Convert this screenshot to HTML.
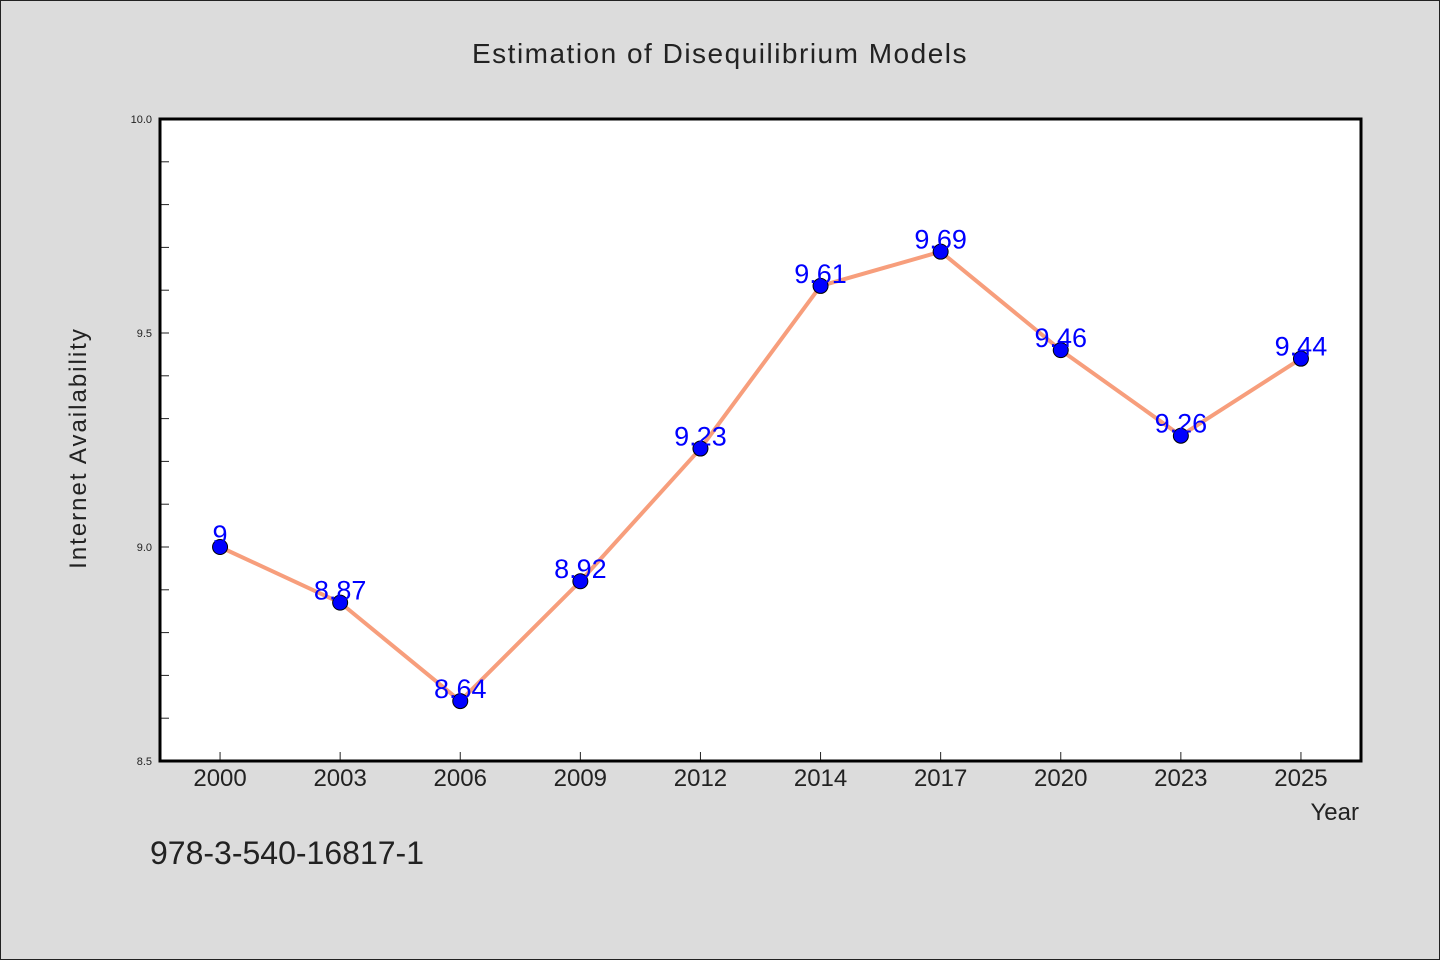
<!DOCTYPE html>
<html><head><meta charset="utf-8"><style>
html,body{margin:0;padding:0;background:#dcdcdc;}
svg{display:block;font-family:"WenQuanYi Zen Hei","Liberation Sans",sans-serif;}
</style></head><body>
<svg id="chart" width="1440" height="960" viewBox="0 0 1440 960">
<rect x="0.5" y="0.5" width="1439" height="959" fill="#dcdcdc" stroke="#222"/>
<text x="720" y="63" text-anchor="middle" font-size="28" fill="#222" letter-spacing="1.5">Estimation of Disequilibrium Models</text>
<rect x="160" y="119" width="1201" height="642" fill="#fff"/>
<g id="axes"></g>
<g id="marks"></g>
<text x="86" y="448" text-anchor="middle" font-size="24" fill="#222" letter-spacing="2" transform="rotate(-90 86 448)">Internet Availability</text>
<text x="1359" y="820" text-anchor="end" font-size="24" fill="#222">Year</text>
<text x="150" y="864" font-size="32" fill="#222">978-3-540-16817-1</text>
</svg>
<script>
const categories = ["2000","2003","2006","2009","2012","2014","2017","2020","2023","2025"];
const values = [9, 8.87, 8.64, 8.92, 9.23, 9.61, 9.69, 9.46, 9.26, 9.44];
const valueLabels = ["9","8.87","8.64","8.92","9.23","9.61","9.69","9.46","9.26","9.44"];
const yTickLabels = ["8.5","9.0","9.5","10.0"];
const yTickValues = [8.5, 9.0, 9.5, 10.0];
const yMin = 8.5, yMax = 10.0;
const L=160,R=1361,T=119,B=761;
const NS="http://www.w3.org/2000/svg";
function x(i){return L+(R-L)/categories.length*(i+0.5);}
function y(v){return B-(v-yMin)/(yMax-yMin)*(B-T);}
function mk(tag,attrs,parent){const e=document.createElementNS(NS,tag);for(const k in attrs)e.setAttribute(k,attrs[k]);parent.appendChild(e);return e;}
const axes=document.getElementById('axes'), marks=document.getElementById('marks');
// minor ticks
for(let k=1;k<15;k++){const v=yMin+k*0.1; if(Math.abs(v-9)<1e-6||Math.abs(v-9.5)<1e-6) {}
 const t=mk('line',{x1:L,x2:L+9,y1:y(v),y2:y(v),stroke:'#222','stroke-width':1},axes);
 
 }
yTickLabels.forEach((lab,i)=>{const t=mk('text',{x:L-8,y:y(yTickValues[i])+4,'text-anchor':'end','font-size':11,fill:'#222'},axes);t.textContent=lab;
 
 });
categories.forEach((c,i)=>{const tk=mk('line',{x1:x(i),x2:x(i),y1:B,y2:B-9,stroke:'#222','stroke-width':1},axes);
 
 
 const t=mk('text',{x:x(i),y:B+25,'text-anchor':'middle','font-size':24,fill:'#222'},axes);t.textContent=c;
 
 });
const ax=mk('path',{d:`M${L} ${T} H${R} V${B} H${L} Z`,fill:'none',stroke:'#000','stroke-width':3},axes);


const line=mk('polyline',{points:values.map((v,i)=>x(i)+','+y(v)).join(' '),fill:'none',stroke:'#f79e7c','stroke-width':4,'stroke-linejoin':'round'},marks);


values.forEach((v,i)=>{const c=mk('circle',{cx:x(i),cy:y(v),r:7.5,fill:'#0000ff',stroke:'#000','stroke-width':1},marks);
 
 
 const t=mk('text',{x:x(i),y:y(v)-3,'text-anchor':'middle','font-size':27,fill:'#0000ff'},marks);t.textContent=valueLabels[i];
 
 });
</script>
</body></html>
